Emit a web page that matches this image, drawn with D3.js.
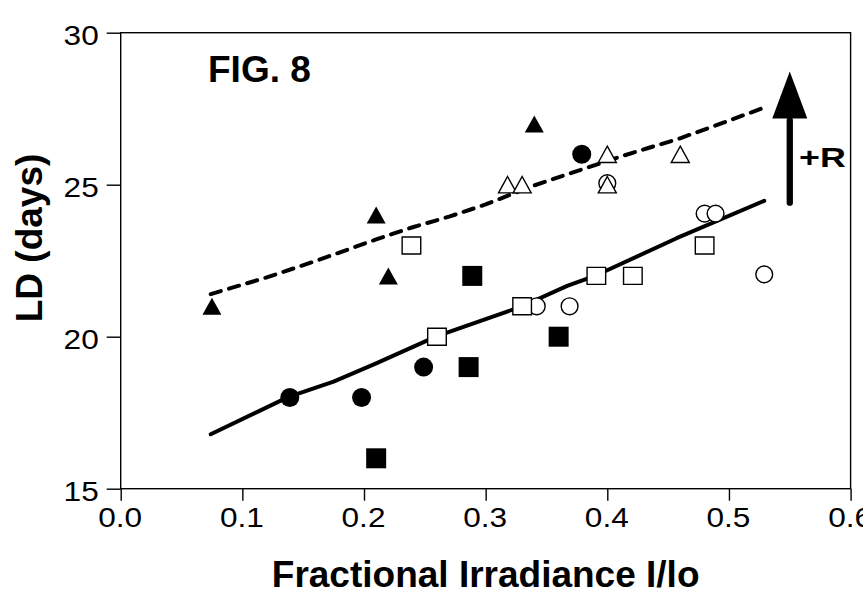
<!DOCTYPE html>
<html><head><meta charset="utf-8">
<script src="https://cdn.jsdelivr.net/npm/d3@7"></script>
<style>body{margin:0;background:#fff}</style>
</head><body><svg id="c" width="863" height="593"></svg>
<script>
// ---- data ----
const xTicks = [0, 0.1, 0.2, 0.3, 0.4, 0.5, 0.6];
const xTickLabels = ["0.0", "0.1", "0.2", "0.3", "0.4", "0.5", "0.6"];
const yTicks = [15, 20, 25, 30];
const yTickLabels = ["15", "20", "25", "30"];

const filledTriX = [0.075, 0.21, 0.22, 0.34];
const filledTriY = [21, 24, 22, 27];
const filledCircX = [0.139, 0.198, 0.249, 0.379];
const filledCircY = [18, 18, 19, 26];
const filledSqX = [0.21, 0.286, 0.289, 0.36];
const filledSqY = [16, 19, 22, 20];
const openSqX = [0.239, 0.26, 0.33, 0.391, 0.421, 0.48];
const openSqY = [23, 20, 21, 22, 22, 23];
const openCircX = [0.342, 0.369, 0.40, 0.48, 0.489, 0.529];
const openCircY = [21, 21, 25.05, 24.05, 24.05, 22.05];
const openTriX = [0.318, 0.33, 0.40, 0.40, 0.46];
const openTriY = [25, 25, 26, 25, 26];

const solidX = [0.074, 0.138, 0.175, 0.21, 0.26, 0.33, 0.367, 0.391, 0.457, 0.529];
const solidY = [16.79, 18.02, 18.52, 19.12, 20.02, 21.0, 21.67, 22.02, 23.24, 24.47];
const dashedX = [0.074, 0.12, 0.161, 0.21, 0.24, 0.27, 0.30, 0.338, 0.379, 0.405, 0.433, 0.458, 0.496, 0.53];
const dashedY = [21.4, 21.95, 22.5, 23.2, 23.6, 23.95, 24.35, 24.95, 25.5, 25.85, 26.2, 26.5, 27.05, 27.55];

const arrowX = 0.55;
const arrowY = [24.41, 27.18, 28.72]; // tail, head base, tip
const figLabel = "FIG. 8";
const arrowLabel = "+R";
const xTitle = "Fractional Irradiance I/lo";
const yTitle = "LD (days)";

// ---- layout ----
const svg = d3.select("#c");
const x = d3.scaleLinear().domain([0, 0.6]).range([120.7, 850.6]);
const y = d3.scaleLinear().domain([15, 30]).range([488.7, 32.7]);
const FONT = "'Liberation Sans', Arial, Helvetica, sans-serif";
const zip = (a, b) => a.map((v, i) => ({x: v, y: b[i]}));

// axes
const ya = svg.append("g").attr("transform", `translate(${x(0)},0)`)
  .call(d3.axisLeft(y).tickValues(yTicks).tickFormat((d, i) => yTickLabels[i]).tickSizeInner(14).tickSizeOuter(0));
const xa = svg.append("g").attr("transform", `translate(0,${y(15)})`)
  .call(d3.axisBottom(x).tickValues(xTicks).tickFormat((d, i) => xTickLabels[i]).tickSizeInner(12).tickSizeOuter(0));
[ya, xa].forEach(a => {
  a.select(".domain").remove();
  a.selectAll("line").attr("stroke", "#000").attr("stroke-width", 1.4);
  a.selectAll("text").attr("fill", "#000").style("font-family", FONT).style("font-size", "27px");
});
const sx = 1.17;
ya.selectAll("text").attr("x", -22 / sx).attr("dy", null).attr("y", 11.8).attr("transform", `scale(${sx},1)`);
xa.selectAll("text").attr("dy", null).attr("y", 38).attr("x", -1 / sx).attr("transform", `scale(${sx},1)`);

// frame
svg.append("rect").attr("x", x(0)).attr("y", y(30)).attr("width", x(0.6) - x(0)).attr("height", y(15) - y(30))
  .attr("fill", "none").attr("stroke", "#000").attr("stroke-width", 1.4);

// lines
const line = d3.line().x(d => x(d.x)).y(d => y(d.y));
svg.append("path").datum(zip(solidX, solidY)).attr("d", line)
  .attr("fill", "none").attr("stroke", "#000").attr("stroke-width", 4).attr("stroke-linecap", "round").attr("stroke-linejoin", "round");
svg.append("path").datum(zip(dashedX, dashedY)).attr("d", line)
  .attr("fill", "none").attr("stroke", "#000").attr("stroke-width", 4).attr("stroke-dasharray", "10.5,8.5").attr("stroke-linecap", "round");

// markers
const tri = (w, h) => `M0,${-h / 2}L${w / 2},${h / 2}L${-w / 2},${h / 2}Z`;
const rect = (w, h) => `M${-w / 2},${-h / 2}h${w}v${h}h${-w}Z`;
function markers(data, shape, fill, stroke) {
  svg.append("g").selectAll("path").data(data).join("path")
    .attr("transform", d => `translate(${x(d.x)},${y(d.y)})`)
    .attr("d", shape).attr("fill", fill)
    .attr("stroke", stroke ? "#000" : "none").attr("stroke-width", 1.4);
}
const circ = r => `M${r},0A${r},${r} 0 1,1 ${-r},0A${r},${r} 0 1,1 ${r},0Z`;
markers(zip(openCircX, openCircY), circ(8.4), "#fff", true);
markers(zip(filledCircX, filledCircY), circ(9.5), "#000", false);
markers(zip(openSqX, openSqY), rect(18.6, 17), "#fff", true);
markers(zip(filledSqX, filledSqY), rect(20, 20), "#000", false);
markers(zip(openTriX, openTriY), tri(18, 16.4), "#fff", true);
markers(zip(filledTriX, filledTriY), tri(19, 17), "#000", false);

// arrow
svg.append("line").attr("x1", x(arrowX)).attr("x2", x(arrowX)).attr("y1", y(arrowY[0])).attr("y2", y(arrowY[1]) + 2)
  .attr("stroke", "#000").attr("stroke-width", 6.3).attr("stroke-linecap", "round");
svg.append("path")
  .attr("d", `M${x(arrowX)},${y(arrowY[2])}L${x(arrowX) + 17.5},${y(arrowY[1])}L${x(arrowX) - 17.5},${y(arrowY[1])}Z`)
  .attr("fill", "#000");

// texts
svg.append("text").attr("transform", `translate(799,166.5) scale(1.28,1)`)
  .style("font-family", FONT).style("font-weight", "bold").style("font-size", "28px").text(arrowLabel);
svg.append("text").attr("x", 208).attr("y", 81.7)
  .style("font-family", FONT).style("font-weight", "bold").style("font-size", "37px").text(figLabel);
svg.append("text").attr("x", (x(0) + x(0.6)) / 2).attr("y", 586.5).attr("text-anchor", "middle")
  .style("font-family", FONT).style("font-weight", "bold").style("font-size", "37px").text(xTitle);
svg.append("text").attr("transform", `translate(41.5,238) rotate(-90)`).attr("text-anchor", "middle")
  .style("font-family", FONT).style("font-weight", "bold").style("font-size", "37px").text(yTitle);
</script>
</body></html>
